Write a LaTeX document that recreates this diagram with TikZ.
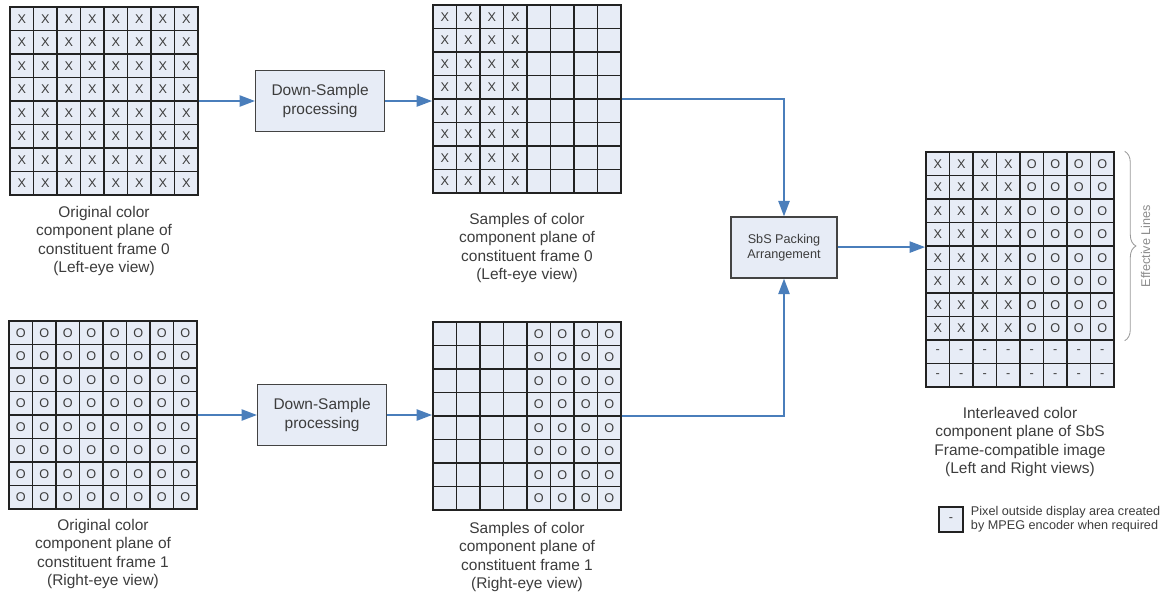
\documentclass[tikz,border=0pt]{standalone}
\usepackage{fontspec}
\setmainfont{Liberation Sans}
\usetikzlibrary{arrows.meta, positioning, calc, fit, decorations.pathreplacing}
\definecolor{pixfill}{HTML}{E7ECF6}
\definecolor{pixline}{HTML}{222222}
\definecolor{flowblue}{HTML}{4A7EBB}
\definecolor{captext}{HTML}{3C3C3C}

\begin{document}
\begin{tikzpicture}[
    x=0.025cm, y=-0.025cm,
    pixel/.style={rectangle, draw=pixline, fill=pixfill, line width=0.95pt, minimum size=0.5875cm, inner sep=0pt, text=captext, font=\fontsize{9}{10}\selectfont},
    gridframe/.style={rectangle, inner sep=0pt},
    process/.style={rectangle, draw=pixline!85, fill=pixfill, line width=0.9pt, align=center, text=captext, minimum width=3.225cm, minimum height=1.525cm, font=\fontsize{11}{13}\selectfont},
    packbox/.style={process, minimum width=2.65cm, minimum height=1.525cm, font=\fontsize{9}{11}\selectfont},
    caption/.style={align=center, inner sep=0pt, text=captext, font=\fontsize{11}{13}\selectfont},
    arrow/.style={-{Triangle[length=11pt, width=8pt]}, line width=1.25pt, flowblue}
]
\useasboundingbox (0,0) rectangle (1175,595);

% Original planes (left column)
\foreach \r in {1,...,8}
  \foreach \c in {1,...,8} {
    \node[pixel] (oL-\r-\c) at ({10+23.5*(\c-0.5)}, {7+23.5*(\r-0.5)}) {X};
    \node[pixel] (oR-\r-\c) at ({9+23.5*(\c-0.5)}, {321+23.5*(\r-0.5)}) {O};
  }
\node[gridframe, fit=(oL-1-1)(oL-8-8)] (oL) {};
\node[gridframe, fit=(oR-1-1)(oR-8-8)] (oR) {};
\node[caption, below=0.25cm of oL] (oLcap) {Original color\\component plane of\\constituent frame 0\\(Left-eye view)};
\node[caption, below=0.225cm of oR] (oRcap) {Original color\\component plane of\\constituent frame 1\\(Right-eye view)};

% Down-sampling
\node[process, right=1.4cm of oL] (dsL) {Down-Sample\\processing};
\node[process, right=1.475cm of oR] (dsR) {Down-Sample\\processing};

% Sampled planes (middle column)
\foreach \r in {1,...,8}
  \foreach \c in {1,...,8} {
    \node[pixel] (sL-\r-\c) at ({433+23.5*(\c-0.5)}, {5+23.5*(\r-0.5)}) {\ifnum\c<5 X\fi};
    \node[pixel] (sR-\r-\c) at ({433+23.5*(\c-0.5)}, {322+23.5*(\r-0.5)}) {\ifnum\c>4 O\fi};
  }
\node[gridframe, fit=(sL-1-1)(sL-8-8)] (sL) {};
\node[gridframe, fit=(sR-1-1)(sR-8-8)] (sR) {};
\node[caption, below=0.475cm of sL] (sLcap) {Samples of color\\component plane of\\constituent frame 0\\(Left-eye view)};
\node[caption, below=0.275cm of sR] (sRcap) {Samples of color\\component plane of\\constituent frame 1\\(Right-eye view)};

% Packing
\node[packbox] (sbs) at (784, 247.5) {SbS Packing\\Arrangement};

% Packed frame (right)
\foreach \r in {1,...,10}
  \foreach \c in {1,...,8}
    \node[pixel] (pk-\r-\c) at ({926+23.5*(\c-0.5)}, {152+23.5*(\r-0.5)}) {\ifnum\r>8 -\else\ifnum\c<5 X\else O\fi\fi};
\node[gridframe, fit=(pk-1-1)(pk-10-8)] (pk) {};
\node[caption, below=0.475cm of pk] (pkcap) {Interleaved color\\component plane of SbS\\Frame-compatible image\\(Left and Right views)};

% Effective lines brace
\draw[decorate, decoration={brace, amplitude=8pt}, gray!80, line width=0.6pt]
  ($(pk-1-8.north east)+(10,0)$) -- ($(pk-8-8.south east)+(10,0)$);
\node[rotate=90, inner sep=0pt, text=gray!90, font=\fontsize{9}{10}\selectfont] (efflines)
  at ($(pk-1-8.north east)!0.5!(pk-8-8.south east)+(31,0)$) {Effective Lines};

% Legend
\node[pixel, minimum width=0.6cm, minimum height=0.625cm] (legcell) at (951, 519.5) {-};
\node[right=0.175cm of legcell, inner sep=0pt, align=left, text=captext, font=\fontsize{9}{10}\selectfont] (legtext) {Pixel outside display area created\\by MPEG encoder when required};

% Arrows
\draw[arrow] (oL) -- (dsL);
\draw[arrow] (dsL) -- (dsL -| sL.west);
\draw[arrow] (oR) -- (dsR);
\draw[arrow] (dsR) -- (dsR -| sR.west);
\draw[arrow] (sL.east) -| (sbs.north);
\draw[arrow] (sR.east) -| (sbs.south);
\draw[arrow] ([yshift=0.3pt]sbs.east) -- ([yshift=0.3pt]sbs.east -| pk.west);

\end{tikzpicture}
\end{document}
